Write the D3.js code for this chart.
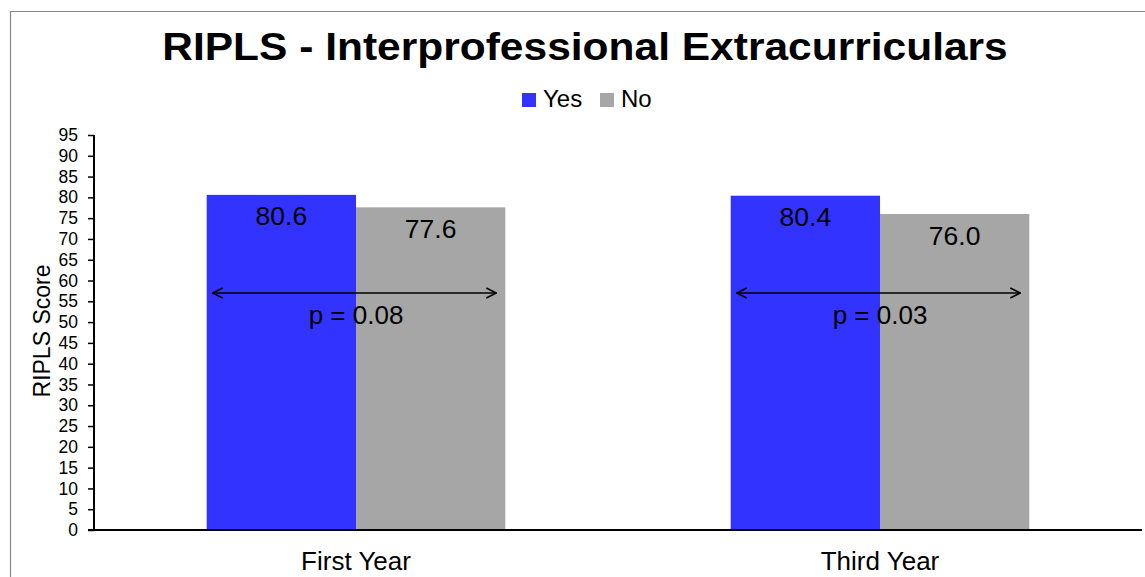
<!DOCTYPE html>
<html><head><meta charset="utf-8">
<script src="https://cdn.jsdelivr.net/npm/d3@7/dist/d3.min.js"></script>
<style>body{margin:0;background:#fff}svg{display:block}text{font-family:"Liberation Sans",Arial,sans-serif}</style>
</head><body>
<script>
const categories = ["First Year", "Third Year"];
const series = ["Yes", "No"];
const yesValues = [80.6, 80.4];
const noValues = [77.6, 76.0];
const pValues = ["p = 0.08", "p = 0.03"];
const yTicks = d3.range(0, 96, 5);
const colors = {Yes: "#3333FF", No: "#A6A6A6"};
const arrowLevel = 57;

(function(){
const W = 1145, H = 577;
const svg = d3.select("body").append("svg").attr("width", W).attr("height", H);

svg.append("path").attr("d", `M10.5,${H} V11.5 H${W}`).attr("fill","none").attr("stroke","#888").attr("stroke-width",1.2);

const pLeft = 94, pRight = 1142, pTop = 135, pBottom = 530;
const x = d3.scaleBand().domain(categories).range([pLeft, pRight]);
const bw = x.bandwidth();
const barW = 149.3;
const x1 = d3.scaleBand().domain(series).range([bw/2 - barW, bw/2 + barW]);
const y = d3.scaleLinear().domain([0, 95]).range([pBottom, pTop]);

const data = categories.map((c, i) => ({cat: c, vals: [{s: "Yes", v: yesValues[i]}, {s: "No", v: noValues[i]}], p: pValues[i]}));

const g = svg.append("g");
const groups = g.selectAll("g.cat").data(data).join("g").attr("class","cat").attr("transform", d => `translate(${x(d.cat)},0)`);
groups.selectAll("rect").data(d => d.vals).join("rect")
  .attr("x", d => x1(d.s)).attr("width", x1.bandwidth())
  .attr("y", d => y(d.v)).attr("height", d => y(0) - y(d.v))
  .attr("fill", d => colors[d.s]);
groups.selectAll("text.val").data(d => d.vals).join("text").attr("class","val")
  .attr("x", d => x1(d.s) + x1.bandwidth()/2).attr("y", d => y(d.v) + 30.5)
  .attr("text-anchor","middle").attr("font-size", 26.5).attr("fill","#000")
  .text(d => d.v.toFixed(1));

const defs = svg.append("defs");
defs.append("marker").attr("id","ah").attr("viewBox","0 0 12 12").attr("refX",11).attr("refY",6)
  .attr("markerWidth",12).attr("markerHeight",12).attr("markerUnits","userSpaceOnUse").attr("orient","auto-start-reverse")
  .append("path").attr("d","M1,1 L11,6 L1,11").attr("fill","none").attr("stroke","#000").attr("stroke-width",1.6);
groups.append("line")
  .attr("x1", x1("Yes") + 6).attr("x2", x1("No") + x1.bandwidth() - 9)
  .attr("y1", y(arrowLevel)).attr("y2", y(arrowLevel))
  .attr("stroke","#000").attr("stroke-width",1.6)
  .attr("marker-start","url(#ah)").attr("marker-end","url(#ah)");
groups.append("text").attr("x", bw/2).attr("y", y(arrowLevel) + 30.5)
  .attr("text-anchor","middle").attr("font-size",26).text(d => d.p);

const yAxis = svg.append("g").attr("transform",`translate(${pLeft},0)`)
  .call(d3.axisLeft(y).tickValues(yTicks).tickSize(6).tickPadding(10).tickFormat(d3.format("d")));
yAxis.select(".domain").attr("stroke","#000").attr("stroke-width",2).attr("d",`M0,${pTop}V${pBottom}`);
yAxis.selectAll(".tick line").attr("stroke","#000").attr("stroke-width",1.5);
yAxis.selectAll(".tick text").attr("font-size",17.5).attr("fill","#000").attr("font-family","Liberation Sans, Arial, sans-serif");

const xAxis = svg.append("g").attr("transform",`translate(0,${pBottom})`)
  .call(d3.axisBottom(x).tickSize(0));
xAxis.select(".domain").attr("stroke","#000").attr("stroke-width",2).attr("d",`M${pLeft-6},0H${pRight}`);
xAxis.selectAll(".tick text").attr("font-size",26).attr("fill","#000").attr("font-family","Liberation Sans, Arial, sans-serif").attr("y",40).attr("dy",null);

svg.append("text").attr("transform",`translate(50,331) rotate(-90)`).attr("text-anchor","middle")
  .attr("font-size",23).text("RIPLS Score");

svg.append("g").attr("transform","translate(585,60) scale(1.09,1)")
  .append("text").attr("x",0).attr("y",0).attr("text-anchor","middle").attr("font-size",39).attr("font-weight","bold")
  .text("RIPLS - Interprofessional Extracurriculars");

const leg = svg.append("g");
const legX = [522, 600];
series.forEach((s, i) => {
  leg.append("rect").attr("x", legX[i]).attr("y", 93).attr("width",14).attr("height",14).attr("fill", colors[s]);
  leg.append("text").attr("x", legX[i] + 21).attr("y", 107).attr("font-size",24).text(s);
});
})();
</script>
</body></html>
